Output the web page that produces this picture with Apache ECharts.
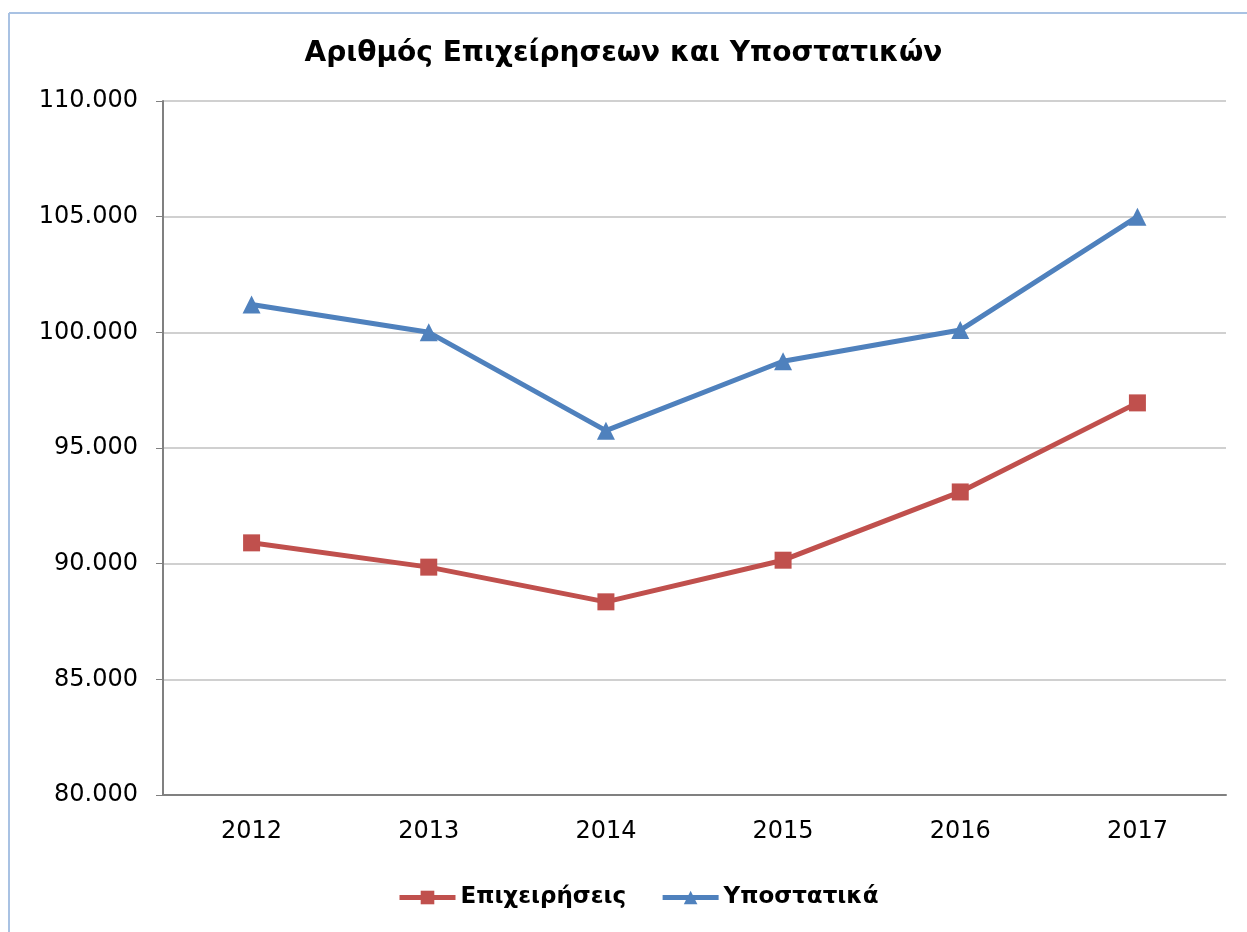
<!DOCTYPE html>
<html>
<head>
<meta charset="utf-8">
<script src="https://cdn.jsdelivr.net/npm/echarts@6/dist/echarts.min.js"></script>
<style>
    body { margin: 0; background: #fff; }
    #main { width: 1247px; height: 932px; }
</style>
</head>
<body>
<div id="main"></div>
<script>
    // δεδομένα
    var years = ['2012', '2013', '2014', '2015', '2016', '2017'];
    var epixeiriseis = [90900, 89850, 88350, 90150, 93100, 96950];
    var ypostatika = [101200, 100000, 95750, 98750, 100100, 105000];

    var chart = echarts.init(document.getElementById('main'));

    function fmt(v) {
        return String(v).replace(/\B(?=(\d{3})+(?!\d))/g, '.');
    }

    var option = {
        animation: false,
        title: {
            text: 'Αριθμός Επιχείρησεων και Υποστατικών',
            left: 'center',
            top: 35,
            textStyle: { fontFamily: 'DejaVu Sans', fontSize: 28, fontWeight: 'bold', color: '#000' }
        },
        grid: { left: 163, right: 21, top: 101, bottom: 137 },
        legend: {
            bottom: 18,
            left: 392,
            itemWidth: 56,
            itemHeight: 17,
            itemGap: 34,
            textStyle: { fontFamily: 'DejaVu Sans', fontSize: 23, fontWeight: 'bold', color: '#000' },
            data: [
                { name: 'Επιχειρήσεις', lineStyle: { width: 5 } },
                { name: 'Υποστατικά', lineStyle: { width: 5 } }
            ]
        },
        xAxis: {
            type: 'category',
            data: years,
            axisLine: { lineStyle: { color: '#808080', width: 2 } },
            axisTick: { show: false },
            axisLabel: { margin: 25, fontFamily: 'DejaVu Sans', fontSize: 24, color: '#000' }
        },
        yAxis: {
            type: 'value',
            min: 80000,
            max: 110000,
            interval: 5000,
            axisLine: { show: true, lineStyle: { color: '#808080', width: 2 } },
            axisTick: { show: true, length: 7, lineStyle: { color: '#808080' } },
            splitLine: { lineStyle: { color: '#c0c0c0', width: 1.5 } },
            axisLabel: { margin: 25, fontFamily: 'DejaVu Sans', fontSize: 24, color: '#000', formatter: fmt }
        },
        series: [
            {
                name: 'Επιχειρήσεις',
                type: 'line',
                data: epixeiriseis,
                symbol: 'rect',
                symbolSize: 17,
                lineStyle: { color: '#c0504d', width: 5 },
                itemStyle: { color: '#c0504d' }
            },
            {
                name: 'Υποστατικά',
                type: 'line',
                data: ypostatika,
                symbol: 'triangle',
                symbolSize: 18,
                lineStyle: { color: '#4f81bd', width: 5 },
                itemStyle: { color: '#4f81bd' }
            }
        ],
        graphic: [
            { type: 'line', shape: { x1: 9, y1: 13, x2: 1247, y2: 13 }, style: { stroke: '#a9c2e3', lineWidth: 2 } },
            { type: 'line', shape: { x1: 9, y1: 13, x2: 9, y2: 932 }, style: { stroke: '#a9c2e3', lineWidth: 2 } }
        ]
    };
    chart.setOption(option);
</script>
</body>
</html>
